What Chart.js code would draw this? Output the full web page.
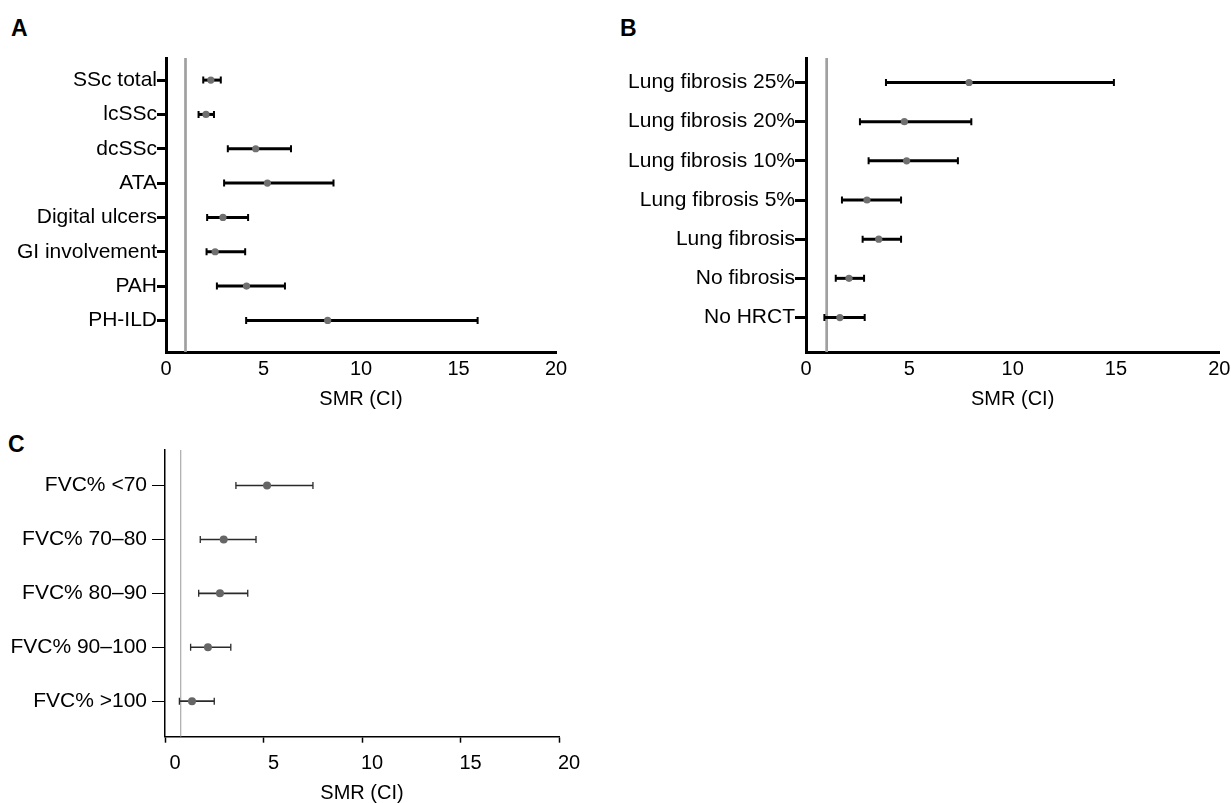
<!DOCTYPE html>
<html>
<head>
<meta charset="utf-8">
<script src="https://cdn.jsdelivr.net/npm/chart.js@4.4.1/dist/chart.umd.min.js"></script>
<style>
  body { margin: 0; width: 1231px; height: 803px; overflow: hidden; background: #fff; font-family: "Liberation Sans", Arial, sans-serif; }
  canvas { position: absolute; }
  .tag { position: absolute; font-weight: bold; line-height: 1; color: #000; }
</style>
</head>
<body>
<div class="tag" style="left:11px;top:17px;font-size:23px">A</div>
<div class="tag" style="left:620px;top:17px;font-size:23px">B</div>
<div class="tag" style="left:8px;top:433px;font-size:23px">C</div>
<canvas id="chartA" width="600" height="420" style="left:0;top:0"></canvas>
<canvas id="chartB" width="621" height="420" style="left:610px;top:0"></canvas>
<canvas id="chartC" width="600" height="390" style="left:0;top:420px"></canvas>
<script>
  // Panel A - disease subsets
  const labelsA = ['SSc total', 'lcSSc', 'dcSSc', 'ATA', 'Digital ulcers', 'GI involvement', 'PAH', 'PH-ILD'];
  const smrA  = [2.30, 2.05, 4.60, 5.20, 2.92, 2.52, 4.13, 8.29];
  const lowA  = [1.91, 1.67, 3.17, 2.98, 2.11, 2.08, 2.61, 4.11];
  const highA = [2.81, 2.46, 6.41, 8.59, 4.21, 4.06, 6.10, 15.98];

  // Panel B - lung fibrosis extent
  const labelsB = ['Lung fibrosis 25%', 'Lung fibrosis 20%', 'Lung fibrosis 10%', 'Lung fibrosis 5%', 'Lung fibrosis', 'No fibrosis', 'No HRCT'];
  const smrB  = [7.89, 4.76, 4.87, 2.95, 3.52, 2.08, 1.64];
  const lowB  = [3.87, 2.61, 3.03, 1.74, 2.74, 1.44, 0.89];
  const highB = [14.90, 8.00, 7.35, 4.60, 4.60, 2.81, 2.84];

  // Panel C - FVC groups
  const labelsC = ['FVC% <70', 'FVC% 70–80', 'FVC% 80–90', 'FVC% 90–100', 'FVC% >100'];
  const smrC  = [5.18, 2.98, 2.79, 2.18, 1.37];
  const lowC  = [3.60, 1.79, 1.71, 1.30, 0.73];
  const highC = [7.51, 4.62, 4.20, 3.34, 2.50];

  const xTicks = [0, 5, 10, 15, 20];
  const refA = 1, refB = 1, refC = 0.8;

  Chart.defaults.font.family = "'Liberation Sans', Arial, sans-serif";
  Chart.defaults.color = '#000';

  function forestChart(id, o) {
    // CI whiskers + reference line, drawn through the chart's scales
    const whiskers = {
      id: 'whiskers',
      beforeDatasetsDraw(chart) {
        const { ctx, chartArea, scales: { x, y } } = chart;
        ctx.save();
        const rx = x.getPixelForValue(o.ref);
        ctx.strokeStyle = o.refColor;
        ctx.lineWidth = o.refWidth;
        ctx.beginPath();
        ctx.moveTo(rx, chartArea.top);
        ctx.lineTo(rx, chartArea.bottom);
        ctx.stroke();

        ctx.strokeStyle = o.barColor;
        o.low.forEach((lo, i) => {
          const py = y.getPixelForValue(i);
          const x1 = x.getPixelForValue(lo);
          const x2 = x.getPixelForValue(o.high[i]);
          ctx.lineWidth = o.barWidth;
          ctx.beginPath();
          ctx.moveTo(x1, py);
          ctx.lineTo(x2, py);
          ctx.stroke();
          ctx.lineWidth = o.capWidth;
          ctx.beginPath();
          [x1, x2].forEach(cx => {
            ctx.moveTo(cx, py - o.cap / 2);
            ctx.lineTo(cx, py + o.cap / 2);
          });
          ctx.stroke();
        });
        ctx.restore();
      }
    };

    return new Chart(document.getElementById(id), {
      type: 'scatter',
      data: {
        datasets: [{
          data: o.smr.map((v, i) => ({ x: v, y: i })),
          pointRadius: o.dot,
          pointBackgroundColor: o.dotColor,
          pointBorderWidth: 0
        }]
      },
      options: {
        responsive: false,
        animation: false,
        events: [],
        layout: { padding: { top: o.top, left: 0, right: o.right, bottom: 0 } },
        plugins: { legend: { display: false }, tooltip: { enabled: false } },
        scales: {
          x: {
            type: 'linear', min: 0, max: 20,
            afterBuildTicks: s => { s.ticks = xTicks.map(v => ({ value: v })); },
            afterFit: s => { s.height = o.xh; s.paddingLeft = 0; s.paddingRight = 0; },
            border: { color: '#000', width: o.axisWidth },
            grid: { drawOnChartArea: false, drawTicks: o.xTickLen > 0, tickLength: o.xTickLen, tickWidth: o.xTickWidth, tickColor: '#000' },
            ticks: { font: { size: 20 }, padding: o.xPad, labelOffset: o.xLabelOffset, maxRotation: 0 },
            title: { display: true, text: 'SMR (CI)', font: { size: 20 }, padding: { top: 0, bottom: o.titlePad } }
          },
          y: {
            type: 'linear', reverse: true, min: o.ymin, max: o.ymax,
            afterBuildTicks: s => { s.ticks = o.labels.map((_, i) => ({ value: i })); },
            afterFit: s => { s.width = o.yw; s.paddingTop = 0; s.paddingBottom = 0; },
            border: { color: '#000', width: o.axisWidth },
            grid: { drawOnChartArea: false, tickLength: o.yTickLen, tickWidth: o.yTickWidth, tickColor: '#000' },
            ticks: { font: { size: 21 }, padding: o.yPad, callback: (v, i) => o.labels[i] }
          }
        }
      },
      plugins: [whiskers]
    });
  }

  forestChart('chartA', {
    labels: labelsA, smr: smrA, low: lowA, high: highA, ref: refA,
    top: 58, right: 44, xh: 68, yw: 166, ymin: -0.644, ymax: 7.92,
    axisWidth: 3, xTickLen: 0, xTickWidth: 0, xPad: 5, xLabelOffset: 0, titlePad: 9,
    yTickLen: 9, yTickWidth: 3, yPad: 0,
    refColor: '#a0a0a0', refWidth: 2.7, barColor: '#000', barWidth: 3, capWidth: 2, cap: 7,
    dot: 3.6, dotColor: '#707070'
  });

  forestChart('chartB', {
    labels: labelsB, smr: smrB, low: lowB, high: highB, ref: refB,
    top: 58, right: 11.7, xh: 68, yw: 196, ymin: -0.625, ymax: 6.88,
    axisWidth: 3, xTickLen: 0, xTickWidth: 0, xPad: 5, xLabelOffset: 0, titlePad: 9,
    yTickLen: 11, yTickWidth: 3, yPad: 0,
    refColor: '#a0a0a0', refWidth: 2.7, barColor: '#000', barWidth: 3, capWidth: 2, cap: 7,
    dot: 3.6, dotColor: '#707070'
  });

  forestChart('chartC', {
    labels: labelsC, smr: smrC, low: lowC, high: highC, ref: refC,
    top: 30, right: 41, xh: 73.3, yw: 165, ymin: -0.66, ymax: 4.66,
    axisWidth: 1.5, xTickLen: 6, xTickWidth: 1.5, xPad: 9, xLabelOffset: 10, titlePad: 4.7,
    yTickLen: 13, yTickWidth: 1, yPad: 5,
    refColor: '#999', refWidth: 1, barColor: '#2a2a2a', barWidth: 1.6, capWidth: 1.3, cap: 7,
    dot: 4, dotColor: '#666'
  });
</script>
</body>
</html>
